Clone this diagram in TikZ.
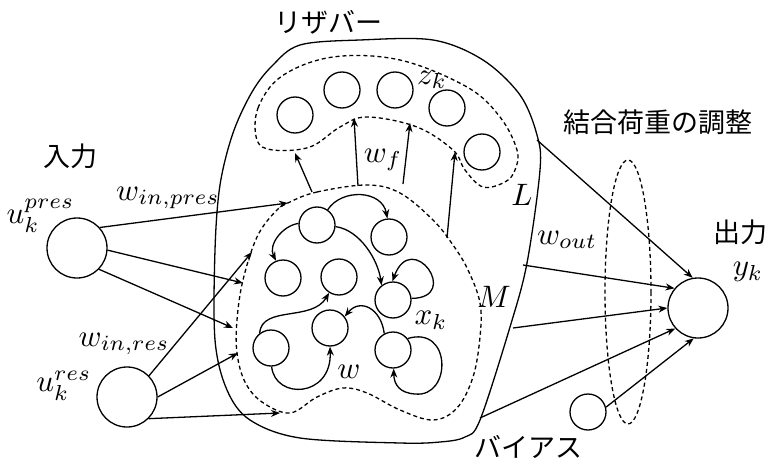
\documentclass[tikz,border=0pt]{standalone}
\usepackage{fontspec}
\newfontfamily\jp{Noto Sans CJK JP}
\usetikzlibrary{arrows.meta}
\newcommand\mth[1]{\scalebox{3.1}{$#1$}}
\begin{document}
\begin{tikzpicture}[x=1pt,y=-1pt,line width=1.3pt,
  neuron/.style={circle,draw,minimum size=36pt,inner sep=0pt},
  bigneuron/.style={circle,draw,minimum size=60pt,inner sep=0pt},
  conn/.style={-{Stealth[length=9pt,width=7pt]}},
  dsh/.style={dash pattern=on 4pt off 3pt},
  jlab/.style={font=\jp\fontsize{27}{30}\selectfont,inner sep=0pt},
  mlab/.style={inner sep=0pt}]
\useasboundingbox (0,0) rectangle (773,468);

% outer reservoir boundary
\draw plot[smooth cycle,tension=0.55] coordinates {(300,45) (360,40) (433,40) (483,60) (520,95) (537,135) (540,170) (527,263) (510,327) (480,420) (465,437) (440,442) (400,443) (300,438) (250,420) (227,390) (215,340) (215,250) (220,185) (233,133) (252,92) (272,66)};

% L region
\draw[dsh] plot[smooth cycle,tension=0.6] coordinates {(257,140) (258,108) (282,76) (333,57) (400,60) (467,87) (500,117) (517,150) (515,170) (505,182) (483,187) (465,170) (453,150) (417,127) (367,117) (340,127) (310,147) (273,150)};

% M region
\draw[dsh] plot[smooth cycle,tension=0.6] coordinates {(290,202) (317,192) (367,185) (400,193) (433,220) (453,245) (468,270) (480,303) (480,337) (473,377) (457,408) (433,420) (400,410) (367,393) (343,388) (317,397) (290,413) (262,402) (245,382) (237,353) (237,320) (243,280) (257,237) (275,212)};

% L neurons
\node[neuron] (z1) at (295,115) {};
\node[neuron] (z2) at (342,90) {};
\node[neuron] (z3) at (395,90) {};
\node[neuron] (z4) at (447,108) {};
\node[neuron] (z5) at (482,152) {};

% reservoir neurons
\node[neuron] (c1) at (317,225) {};
\node[neuron] (c2) at (389,237) {};
\node[neuron] (c3) at (283,278) {};
\node[neuron] (c4) at (339,277) {};
\node[neuron] (c5) at (393,300) {};
\node[neuron] (c6) at (330,328) {};
\node[neuron] (c7) at (271,348) {};
\node[neuron] (c8) at (393,350) {};

% inputs / output / bias
\node[bigneuron] (up) at (77,248) {};
\node[bigneuron] (ur) at (127,397) {};
\node[bigneuron] (yk) at (698,308) {};
\node[neuron] (bias) at (588,412) {};

% coordinates on region borders
\coordinate (m1) at (312,192); \coordinate (l1) at (295,153);
\coordinate (m2) at (358,186); \coordinate (l2) at (354,118);
\coordinate (m3) at (403,184); \coordinate (l3) at (410,123);
\coordinate (m4) at (447,238); \coordinate (l4) at (455,152);

\coordinate (ip1) at (288,203);
\coordinate (ip2) at (243,283);
\coordinate (ip3) at (233,328);
\coordinate (ir1) at (252,252);
\coordinate (ir2) at (238,353);
\coordinate (ir3) at (280,413);

\coordinate (o1) at (537,140);
\coordinate (o2) at (523,265);
\coordinate (o3) at (513,328);
\coordinate (o4) at (480,418);

% M -> L
\draw[conn] (m1) -- (l1);
\draw[conn] (m2) -- (l2);
\draw[conn] (m3) -- (l3);
\draw[conn] (m4) -- (l4);

% inputs
\draw[conn] (up.42) -- (ip1);
\draw[conn] (up.-4) -- (ip2);
\draw[conn] (up.-44) -- (ip3);
\draw[conn] (ur.44) -- (ir1);
\draw[conn] (ur.0) -- (ir2);
\draw[conn] (ur.-45) -- (ir3);

% outputs
\draw[conn] (o1) -- (yk.100);
\draw[conn] (o2) -- (yk.140);
\draw[conn] (o3) -- (yk.180);
\draw[conn] (o4) -- (yk.222);
\draw[conn] (bias.15) -- (yk.262);

% readout ellipse
\draw[dsh] (628,292) ellipse [x radius=23, y radius=132];

% internal recurrent connections
\draw[conn] (c1.55) .. controls (342,188) and (382,190) .. (c2.95);
\draw[conn] (c1.175) .. controls (282,226) and (268,245) .. (c3.112);
\draw[conn] (c1.-5) .. controls (360,230) and (378,260) .. (c5.128);
\draw[conn] (c5.5) .. controls (462,298) and (412,228) .. (c5.92);
\draw[conn] (c7.128) .. controls (262,305) and (312,322) .. (c4.238);
\draw[conn] (c7.-88) .. controls (275,400) and (332,398) .. (c6.-90);
\draw[conn] (c8.118) .. controls (381,308) and (360,298) .. (c6.38);
\draw[conn] (c8.38) .. controls (452,325) and (452,398) .. (415,394) .. controls (400,393) and (394,385) .. (c8.-88);

% labels
\node[jlab] (tres) at (328,22) {リザバー};
\node[jlab] (tin) at (70,156) {入力};
\node[jlab] (tout) at (740,232) {出力};
\node[jlab] (tadj) at (658,122) {結合荷重の調整};
\node[jlab] (tbias) at (528,447) {バイアス};

\node[mlab] (lz) at (432,80) {\mth{z_k}};
\node[mlab] (lwf) at (383,160) {\mth{w_f}};
\node[mlab] (lL) at (522,195) {\mth{L}};
\node[mlab] (lM) at (494,297) {\mth{M}};
\node[mlab] (lx) at (431,320) {\mth{x_k}};
\node[mlab] (lw) at (349,372) {\mth{w}};
\node[mlab] (lwo) at (567,240) {\mth{w_{out}}};
\node[mlab] (lwip) at (168,198) {\mth{w_{in,pres}}};
\node[mlab] (lwir) at (124,344) {\mth{w_{in,res}}};
\node[mlab,anchor=west] (lup) at (6,216) {\mth{u_k^{pres}}};
\node[mlab,anchor=east] (lur) at (92,386) {\mth{u_k^{res}}};
\node[mlab] (ly) at (748,272) {\mth{y_k}};
\end{tikzpicture}
\end{document}
